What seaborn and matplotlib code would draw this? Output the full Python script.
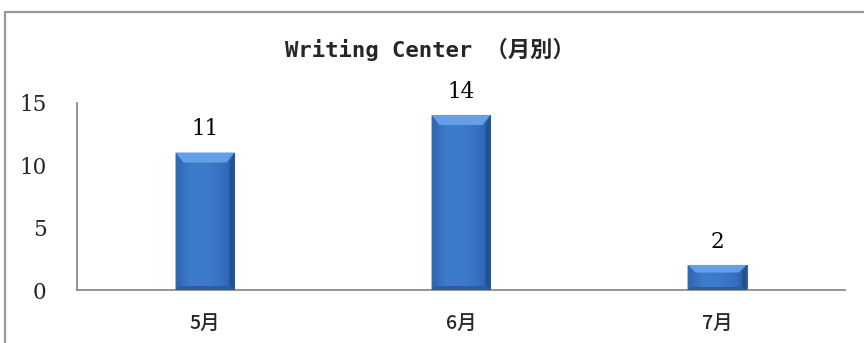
import numpy as np
import pandas as pd
import matplotlib
matplotlib.use("Agg")
import matplotlib.pyplot as plt
import seaborn as sns
from matplotlib.lines import Line2D
from matplotlib.colors import LinearSegmentedColormap

months = ["5月", "6月", "7月"]
counts = [11, 14, 2]
title_text = "Writing Center （月別）"
y_ticks = [0, 5, 10, 15]

sns.set_theme(style="white")
plt.rcParams["font.family"] = ["Noto Sans CJK JP", "DejaVu Sans"]

df = pd.DataFrame({"month": months, "count": counts})

fig = plt.figure(figsize=(8.64, 3.43), dpi=100)
fig.patch.set_facecolor("white")
ax = fig.add_axes([0.0891, 0.1545, 0.889, 0.5466])

sns.barplot(data=df, x="month", y="count", color="#3b78c8", width=0.23,
            saturation=1, ax=ax, zorder=2)

ax.set_xlim(-0.5, 2.5)
ax.set_ylim(0, 15)
ax.set_yticks(y_ticks)
ax.set_yticklabels([str(v) for v in y_ticks], family="DejaVu Serif", fontsize=15.5)
ax.set_xlabel("")
ax.set_ylabel("")
for lab in ax.get_xticklabels():
    lab.set_fontsize(14)
    lab.set_family(["Noto Sans CJK JP"])
    lab.set_weight("medium")
ax.tick_params(axis="y", length=0, pad=22)
ax.tick_params(axis="x", length=0, pad=17)

for side in ["top", "right"]:
    ax.spines[side].set_visible(False)
for side in ["left", "bottom"]:
    ax.spines[side].set_color("#8c8c8c")
    ax.spines[side].set_linewidth(1.3)

# beveled blue shading on each bar
cmap = LinearSegmentedColormap.from_list(
    "bar", ["#2f66b2", "#3d7bcb", "#3c7acb", "#3672c2", "#2b5fa8"])
grad = np.linspace(0, 1, 256).reshape(1, -1)
fig.canvas.draw()
to_data = ax.transData.inverted()
p0 = to_data.transform((0, 0))
p1 = to_data.transform((8, 10))
bx, by = p1[0] - p0[0], p1[1] - p0[1]

for patch, val in zip(ax.patches, counts):
    x0 = patch.get_x()
    w = patch.get_width()
    x1 = x0 + w
    patch.set_edgecolor("#4d6385")
    patch.set_linewidth(0.8)
    im = ax.imshow(grad, cmap=cmap, aspect="auto",
                   extent=[x0, x1, 0, val], zorder=3)
    im.set_clip_path(patch)
    byv = min(by, val * 0.3)
    bxv = bx
    # top facet
    ax.fill([x0, x1, x1 - bxv, x0 + bxv], [val, val, val - byv, val - byv],
            color="#64a0e6", zorder=4, linewidth=0)
    # left facet
    ax.fill([x0, x0 + bxv * 0.5, x0 + bxv * 0.5, x0],
            [val, val - byv, byv * 0.4, 0],
            color="#3269b4", zorder=4, linewidth=0)
    # right facet
    ax.fill([x1, x1 - bxv * 0.6, x1 - bxv * 0.6, x1],
            [val, val - byv, byv * 0.4, 0],
            color="#24528f", zorder=4, linewidth=0)
    # bottom facet
    ax.fill([x0, x1, x1 - bxv * 0.6, x0 + bxv * 0.5],
            [0, 0, byv * 0.4, byv * 0.4],
            color="#2c5c9f", zorder=4, linewidth=0)
    ax.text((x0 + x1) / 2, val + 1.0, str(val), ha="center", va="bottom",
            family="DejaVu Serif", fontsize=15.5, color="black")

fig.text(0.497, 0.855, title_text, ha="center", va="center", fontsize=16,
         family=["DejaVu Sans Mono", "Noto Sans CJK JP"], weight="bold")

# outer chart frame
fig.add_artist(Line2D([0.0058, 1.0], [0.965, 0.965], transform=fig.transFigure,
                      color="#999999", linewidth=1.6))
fig.add_artist(Line2D([0.0058, 0.0058], [0.0, 0.965], transform=fig.transFigure,
                      color="#999999", linewidth=1.6))

fig.savefig("out.png", dpi=100)
